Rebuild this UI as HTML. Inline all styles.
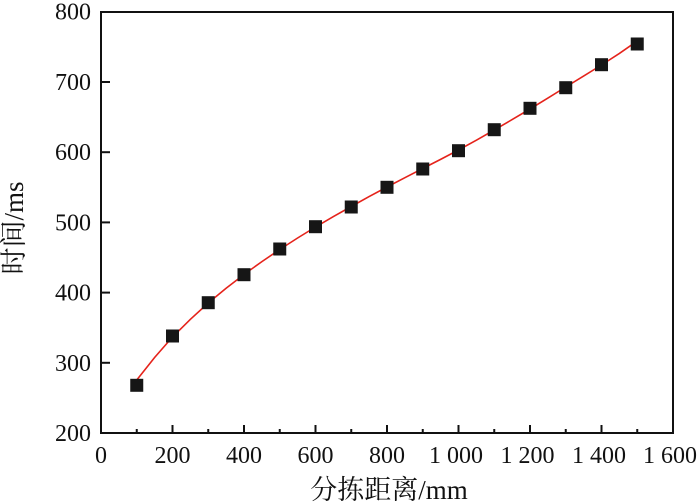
<!DOCTYPE html>
<html><head><meta charset="utf-8"><style>
html,body{margin:0;padding:0;background:#fff;}
svg{display:block;}
text{font-family:"Liberation Serif","Noto Serif CJK SC",serif;fill:#111;}
</style></head><body>
<svg width="700" height="504" viewBox="0 0 700 504" xmlns="http://www.w3.org/2000/svg">
<rect x="0" y="0" width="700" height="504" fill="#fff"/>
<!-- ticks x -->
<g stroke="#111" stroke-width="2">
<line x1="172.5" y1="433" x2="172.5" y2="425"/>
<line x1="244" y1="433" x2="244" y2="425"/>
<line x1="315.5" y1="433" x2="315.5" y2="425"/>
<line x1="387" y1="433" x2="387" y2="425"/>
<line x1="458.5" y1="433" x2="458.5" y2="425"/>
<line x1="530" y1="433" x2="530" y2="425"/>
<line x1="601.5" y1="433" x2="601.5" y2="425"/>
<line x1="136.75" y1="433" x2="136.75" y2="429"/>
<line x1="208.25" y1="433" x2="208.25" y2="429"/>
<line x1="279.75" y1="433" x2="279.75" y2="429"/>
<line x1="351.25" y1="433" x2="351.25" y2="429"/>
<line x1="422.75" y1="433" x2="422.75" y2="429"/>
<line x1="494.25" y1="433" x2="494.25" y2="429"/>
<line x1="565.75" y1="433" x2="565.75" y2="429"/>
<line x1="637.25" y1="433" x2="637.25" y2="429"/>
<!-- y ticks -->
<line x1="101" y1="362.8" x2="110" y2="362.8"/>
<line x1="101" y1="292.6" x2="110" y2="292.6"/>
<line x1="101" y1="222.4" x2="110" y2="222.4"/>
<line x1="101" y1="152.2" x2="110" y2="152.2"/>
<line x1="101" y1="82" x2="110" y2="82"/>
</g>
<!-- frame -->
<rect x="101" y="12" width="572" height="421" fill="none" stroke="#111" stroke-width="2"/>
<!-- curve -->
<polyline fill="none" stroke="#e5231b" stroke-width="1.6" points="136.75,380 154.6,357.5 172.5,337 190.4,319.3 208.25,303 226.1,288.2 244,274.5 261.9,261.6 279.75,249.5 297.6,238 315.5,227 333.4,216.6 351.25,206.5 369.1,196.6 387,187 404.9,177.7 422.75,168.5 440.6,159.4 458.5,150 476.4,140.2 494.25,130 512.1,119.6 530,109 547.9,98.1 565.75,87 583.6,76.1 601.5,65 619.4,53.4 637.25,41"/>
<!-- markers -->
<g fill="#161616">
<rect x="130.25" y="378.8" width="13" height="13"/>
<rect x="166" y="329.5" width="13" height="13"/>
<rect x="201.75" y="296.2" width="13" height="13"/>
<rect x="237.5" y="268.2" width="13" height="13"/>
<rect x="273.25" y="242.5" width="13" height="13"/>
<rect x="309" y="220.2" width="13" height="13"/>
<rect x="344.75" y="200.5" width="13" height="13"/>
<rect x="380.5" y="180.8" width="13" height="13"/>
<rect x="416.25" y="162.5" width="13" height="13"/>
<rect x="452" y="144.2" width="13" height="13"/>
<rect x="487.75" y="123.2" width="13" height="13"/>
<rect x="523.5" y="101.8" width="13" height="13"/>
<rect x="559.25" y="81.2" width="13" height="13"/>
<rect x="595" y="58.2" width="13" height="13"/>
<rect x="630.75" y="37.5" width="13" height="13"/>
</g>
<!-- y labels -->
<g font-size="24" text-anchor="end">
<text x="91" y="441">200</text>
<text x="91" y="370.8">300</text>
<text x="91" y="300.6">400</text>
<text x="91" y="230.4">500</text>
<text x="91" y="160.2">600</text>
<text x="91" y="90">700</text>
<text x="91" y="19.5">800</text>
</g>
<!-- x labels -->
<g font-size="24" text-anchor="middle">
<text x="101" y="463">0</text>
<text x="172.5" y="463">200</text>
<text x="244" y="463">400</text>
<text x="315.5" y="463">600</text>
<text x="387" y="463">800</text>
<text x="456" y="463">1 000</text>
<text x="527.5" y="463">1 200</text>
<text x="599" y="463">1 400</text>
<text x="670" y="463">1 600</text>
</g>
<!-- axis titles -->
<text x="389" y="499" font-size="27" text-anchor="middle">分拣距离/mm</text>
<text transform="translate(23,228) rotate(-90)" font-size="27" text-anchor="middle">时间/ms</text>
</svg>
</body></html>
